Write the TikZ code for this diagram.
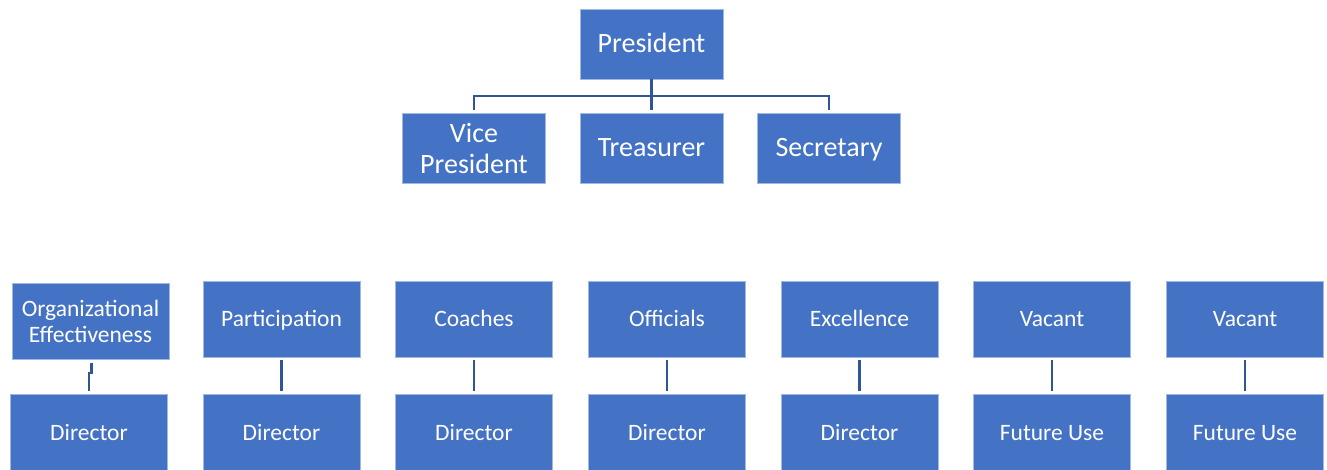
\documentclass[tikz,border=0pt]{standalone}
\usepackage{fontspec}
\setmainfont{Carlito}
\definecolor{boxblue}{HTML}{4472C4}
\definecolor{lineblue}{HTML}{2F5597}
\begin{document}
\begin{tikzpicture}[x=1pt,y=-1pt,
  box/.style={rectangle, fill=boxblue, draw={rgb,255:red,160;green,185;blue,225}, line width=0.6pt, text=white, align=center, inner sep=0pt},
  topbox/.style={box, minimum width=143pt, minimum height=70pt, font=\fontsize{28}{31}\selectfont},
  lowbox/.style={box, minimum width=157pt, minimum height=76pt, font=\fontsize{23.5}{26}\selectfont},
  topline/.style={text height=18pt, text depth=0pt},
  lowline/.style={text height=15.1pt, text depth=0pt},
  conn/.style={draw=lineblue, line width=2.6pt}]
\useasboundingbox (0,0) rectangle (1327,470);
% top level
\node[topbox, topline] (pres) at (651.5,44) {President};
\node[topbox] (vp) at (474,148) {Vice\\President};
\node[topbox, topline] (treas) at (651.5,148) {Treasurer};
\node[topbox, topline] (sec) at (829,148) {Secretary};
\coordinate (bus) at (651.5,96);
\draw[conn] (pres.south) -- (bus);
\draw[conn, shorten >=3pt] (bus) -| (vp.north);
\draw[conn, shorten >=3pt] (bus) -- (treas.north);
\draw[conn, shorten >=3pt] (bus) -| (sec.north);
% lower rows
\node[lowbox] (org) at (90.5,321.5) {Organizational\\Effectiveness};
\node[lowbox, lowline] (dorg) at (89,432.5) {Director};
\node[lowbox, lowline] (part) at (281.5,319) {Participation};
\node[lowbox, lowline] (dpart) at (281.5,432.5) {Director};
\node[lowbox, lowline] (coach) at (474,319) {Coaches};
\node[lowbox, lowline] (dcoach) at (474,432.5) {Director};
\node[lowbox, lowline] (off) at (667,319) {Officials};
\node[lowbox, lowline] (doff) at (667,432.5) {Director};
\node[lowbox, lowline] (exc) at (859.5,319) {Excellence};
\node[lowbox, lowline] (dexc) at (859.5,432.5) {Director};
\node[lowbox, lowline] (vac1) at (1052,319) {Vacant};
\node[lowbox, lowline] (fut1) at (1052,432.5) {Future Use};
\node[lowbox, lowline] (vac2) at (1245,319) {Vacant};
\node[lowbox, lowline] (fut2) at (1245,432.5) {Future Use};
\draw[conn] ([shift={(1,3)}]org.south) -- ++(0,10) -| ([yshift=3pt]dorg.north);
\foreach \a/\b in {part/dpart, coach/dcoach, off/doff, exc/dexc, vac1/fut1, vac2/fut2}
  \draw[conn, shorten <=3pt, shorten >=3pt] (\a.south) -- (\b.north);
\end{tikzpicture}
\end{document}
